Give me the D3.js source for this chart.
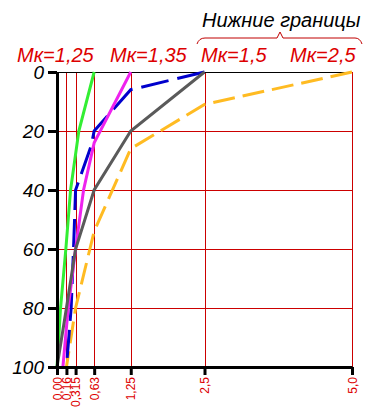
<!DOCTYPE html>
<html>
<head>
<meta charset="utf-8">
<script src="https://cdn.jsdelivr.net/npm/d3@7"></script>
<style>
  body { margin: 0; background: #fff; }
  svg { display: block; font-family: "Liberation Sans", Arial, sans-serif; }
</style>
</head>
<body>
<svg id="chart"></svg>
<script>
// axis ticks
const xTicks = [0, 0.16, 0.315, 0.63, 1.25, 2.5, 5.0];
const xTickLabels = ["0,00", "0,16", "0,315", "0,63", "1,25", "2,5", "5,0"];
const yTicks = [0, 20, 40, 60, 80, 100];
const yGrid = [20, 40, 60, 80];

// series: size value (x) against depth (y)
const greenX = [0.63, 0.37, 0.23, 0.15, 0.06, 0];
const greenD = [0, 20, 40, 60, 80, 100];
const magentaX = [1.25, 0.63, 0.45, 0.315, 0.19, 0.1];
const magentaD = [0, 24, 40, 60, 80, 100];
const blueX = [2.5, 1.25, 0.63, 0.58, 0.315, 0.28, 0.24, 0.16];
const blueD = [0, 6, 20, 25, 40, 60, 80, 100];
const grayX = [2.5, 1.25, 0.63, 0.315, 0.16, 0];
const grayD = [0, 20, 40, 60, 80, 100];
const orangeX = [5.0, 2.5, 1.25, 0.63, 0.315, 0.16];
const orangeD = [0, 11, 26, 54, 80, 100];

const topLabels = ["Мк=1,25", "Мк=1,35", "Мк=1,5", "Мк=2,5"];

const width = 376, height = 415;
const svg = d3.select("#chart").attr("width", width).attr("height", height);

const x = d3.scaleLinear().domain([0, 5]).range([57, 352]);
const y = d3.scaleLinear().domain([0, 100]).range([72, 367]);

// grid
const grid = svg.append("g").attr("stroke", "#cc0000").attr("stroke-width", 1);
grid.selectAll("line.v")
    .data(xTicks.slice(1))
    .join("line")
    .attr("x1", d => Math.round(x(d)) + 0.5).attr("x2", d => Math.round(x(d)) + 0.5)
    .attr("y1", y(0)).attr("y2", y(100));
grid.selectAll("line.h")
    .data(yGrid)
    .join("line")
    .attr("x1", x(0)).attr("x2", x(5))
    .attr("y1", d => Math.round(y(d)) + 0.5).attr("y2", d => Math.round(y(d)) + 0.5);

// top border at depth 0
svg.append("line")
    .attr("x1", x(0)).attr("x2", x(5))
    .attr("y1", y(0) + 0.5).attr("y2", y(0) + 0.5)
    .attr("stroke", "#000").attr("stroke-width", 1);

// lines
const line = d3.line().x(d => x(d[0])).y(d => y(d[1]));
const series = [
    { xs: orangeX, ds: orangeD, color: "#ffbb22", dash: "22,8" },
    { xs: blueX, ds: blueD, color: "#0000cc", dash: "28,9" },
    { xs: magentaX, ds: magentaD, color: "#ee22ee", dash: null },
    { xs: greenX, ds: greenD, color: "#33ee33", dash: null },
    { xs: grayX, ds: grayD, color: "#5a5a5a", dash: null }
];
svg.append("g")
    .selectAll("path")
    .data(series)
    .join("path")
    .attr("d", s => line(s.xs.map((v, i) => [v, s.ds[i]])))
    .attr("fill", "none")
    .attr("stroke", s => s.color)
    .attr("stroke-width", 3)
    .attr("stroke-dasharray", s => s.dash);

// y axis
const yAxis = svg.append("g")
    .attr("transform", `translate(${x(0)},0)`)
    .call(d3.axisLeft(y).tickValues(yTicks).tickSize(9).tickSizeOuter(0).tickPadding(4));
yAxis.select(".domain").attr("stroke", "#000").attr("stroke-width", 3);
yAxis.selectAll(".tick line").attr("stroke", "#000").attr("stroke-width", 3);
yAxis.selectAll(".tick text")
    .attr("font-size", 19)
    .attr("font-style", "italic")
    .attr("font-family", "Liberation Sans, Arial, sans-serif")
    .attr("fill", "#000");

// x axis
const xAxis = svg.append("g")
    .attr("transform", `translate(0,${y(100)})`)
    .call(d3.axisBottom(x).tickValues(xTicks).tickFormat((d, i) => xTickLabels[i]).tickSize(8).tickSizeOuter(0));
xAxis.select(".domain").attr("stroke", "#000").attr("stroke-width", 3);
xAxis.selectAll(".tick line").attr("stroke", "#000").attr("stroke-width", 3);
xAxis.selectAll(".tick text")
    .attr("transform", "rotate(-90)")
    .attr("text-anchor", "end")
    .attr("x", -10)
    .attr("y", 0)
    .attr("dy", "0.35em")
    .attr("font-size", 12)
    .attr("font-family", "Liberation Sans, Arial, sans-serif")
    .attr("fill", "#dd0000");

// top labels
svg.append("g")
    .selectAll("text")
    .data(topLabels)
    .join("text")
    .attr("x", (d, i) => [17, 110, 201, 290][i])
    .attr("y", 62)
    .attr("font-size", 20)
    .attr("font-style", "italic")
    .attr("fill", "#dd0000")
    .text(d => d);

svg.append("text")
    .attr("x", 202)
    .attr("y", 27)
    .attr("font-size", 20)
    .attr("font-style", "italic")
    .attr("fill", "#000")
    .text("Нижние границы");

// brace over the lower bounds
svg.append("path")
    .attr("d", "M197,44 Q199,38 205,38 L277,38 L280,32 L283,38 L355,38 Q360,38 362,44")
    .attr("fill", "none")
    .attr("stroke", "#c00000")
    .attr("stroke-width", 1);
</script>
</body>
</html>
